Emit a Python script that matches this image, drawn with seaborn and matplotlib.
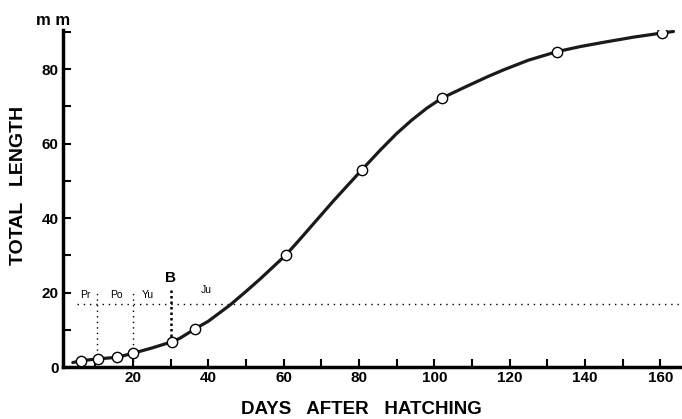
import matplotlib
matplotlib.use("Agg")
import matplotlib.pyplot as plt
import seaborn as sns
import pandas as pd

# measured sizes (open circles)
point_days = [6.3, 10.8, 15.8, 20.0, 30.4, 36.4, 60.6, 80.8, 102.0, 132.6, 160.5]
point_length = [1.7, 2.2, 2.6, 3.7, 6.8, 10.2, 30.1, 53.0, 72.2, 84.7, 89.7]

# hand drawn growth curve
curve_days = [4, 6.3, 10.8, 15.8, 20, 25, 30.4, 32.4, 36.4, 40, 45.7, 50, 53.7, 60.6,
              64.4, 68.8, 73.2, 80.8, 85.6, 90, 94, 98, 102, 107.8, 114, 118.4, 125,
              132.6, 139, 145, 153, 160.5, 163.5]
curve_length = [1.2, 1.7, 2.2, 2.6, 3.7, 5.1, 6.8, 7.7, 10.2, 12.3, 16.6, 20.3, 23.6, 30.1,
                34.4, 39.5, 44.6, 53.0, 58.2, 62.7, 66.3, 69.5, 72.2, 75.0, 77.9, 79.8, 82.4,
                84.7, 86.1, 87.2, 88.6, 89.7, 90.1]

# stage boundaries (days) and the size where the stage labels sit
stage_bounds = [10.5, 20]
b_day = 30
b_range = [6.8, 20.8]
stage_level = 17
stage_names = ["Pr", "Po", "Yu", "Ju"]
stage_label_days = [7.2, 15.5, 24, 39.4]

curve = pd.DataFrame({"day": curve_days, "length": curve_length})
points = pd.DataFrame({"day": point_days, "length": point_length})

sns.set_style("ticks")
plt.rcParams["font.family"] = ["Liberation Sans", "DejaVu Sans"]
plt.rcParams["text.color"] = "black"
plt.rcParams["axes.labelcolor"] = "black"
plt.rcParams["xtick.color"] = "black"
plt.rcParams["ytick.color"] = "black"
plt.rcParams["axes.edgecolor"] = "black"

fig = plt.figure(figsize=(6.82, 4.19), dpi=100)
ax = fig.add_axes([0.0924, 0.1241, 0.905, 0.8043])

# stage dotted lines
ax.plot([5, 165.5], [stage_level, stage_level], color="black", lw=1,
        linestyle=(0, (1, 3.5)))
for d in stage_bounds:
    ax.plot([d, d], [0, 20], color="black", lw=1, linestyle=(0, (1, 3)))
ax.plot([b_day, b_day], b_range, color="black", lw=1.8, linestyle=(0, (1, 1.2)))

sns.lineplot(data=curve, x="day", y="length", ax=ax, color="#1a1a1a", lw=2.3,
             sort=True, estimator=None, solid_joinstyle="round",
             solid_capstyle="round")
sns.scatterplot(data=points, x="day", y="length", ax=ax, s=55, facecolor="white",
                edgecolor="black", linewidth=1.0, zorder=5)

for name, d in zip(stage_names, stage_label_days):
    ax.text(d, 19.3 if name != "Ju" else 20.6, name, fontsize=7.5, ha="center",
            va="center")
ax.text(b_day, 23.8, "B", fontsize=11, fontweight="bold", ha="center", va="center")

ax.set_xlim(1.4, 165.3)
ax.set_ylim(0, 90.5)
ax.set_xticks(range(10, 170, 10))
ax.set_xticklabels([str(v) if v % 20 == 0 else "" for v in range(10, 170, 10)])
ax.set_yticks(range(0, 100, 10))
ax.set_yticklabels([str(v) if v % 20 == 0 and v < 90 else "" for v in range(0, 100, 10)])
ax.tick_params(axis="both", direction="in", length=6, width=1.5, labelsize=11,
               pad=3)
for lab in ax.get_xticklabels() + ax.get_yticklabels():
    lab.set_fontweight("bold")

sns.despine(ax=ax)
ax.spines["left"].set_linewidth(2.5)
ax.spines["bottom"].set_linewidth(2.5)

ax.set_xlabel("DAYS   AFTER   HATCHING", fontsize=13.5, fontweight="bold")
ax.set_ylabel("TOTAL   LENGTH", fontsize=14, fontweight="bold")
ax.yaxis.set_label_coords(-0.058, 0.54)
ax.xaxis.set_label_coords(0.483, -0.10)
fig.text(0.078, 0.952, "m m", fontsize=12, fontweight="bold", ha="center",
         va="center")

fig.savefig("out.png", dpi=100)
